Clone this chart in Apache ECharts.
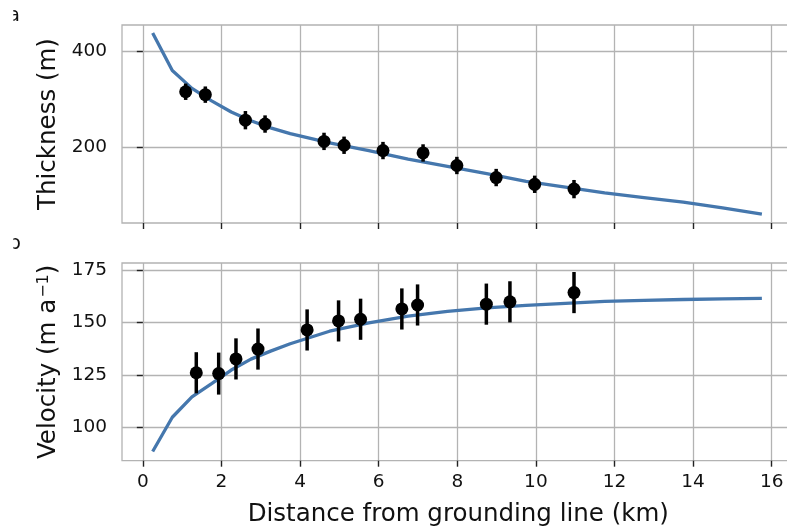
<!DOCTYPE html>
<html><head><meta charset="utf-8">
<script src="https://cdn.jsdelivr.net/npm/echarts@6/dist/echarts.min.js"></script>
<style>html,body{margin:0;padding:0;background:#fff}#c{width:787px;height:531px}</style>
</head><body><div id="c"></div>
<script>
// ---- data ----
const xTicks = [0, 2, 4, 6, 8, 10, 12, 14, 16];
const thickTicks = [200, 400];
const velTicks = [100, 125, 150, 175];

// model curves
const lineDist = [0.25, 0.75, 1.25, 1.75, 2.25, 2.75, 3.25, 3.75, 4.75, 5.75, 6.75, 7.75, 8.75, 9.75, 10.75, 11.75, 12.75, 13.75, 14.75, 15.75];
const thickModel = [437, 359, 322, 296, 273, 255, 240, 228, 209, 193, 175, 160, 145, 129, 117, 105, 95.5, 86, 74, 61];
const velModel = [88.5, 104.8, 114.5, 120.8, 127.3, 132.5, 136.3, 139.8, 145.8, 149.8, 153.0, 155.2, 156.9, 158.1, 159.1, 160.0, 160.5, 160.9, 161.2, 161.4];

// observations - thickness
const thickDist = [1.09, 1.59, 2.61, 3.11, 4.61, 5.12, 6.11, 7.13, 7.99, 8.99, 9.97, 10.97];
const thickObs = [315, 309, 256, 248, 212, 204, 193, 188, 162, 137, 123, 113];
const thickErr = [17, 17, 19, 18, 18, 18, 18, 18, 18, 18, 18, 19];

// observations - velocity
const velDist = [1.36, 1.93, 2.37, 2.93, 4.18, 4.98, 5.54, 6.59, 6.99, 8.74, 9.34, 10.97];
const velObs = [126.0, 125.6, 132.6, 137.3, 146.4, 150.7, 151.5, 156.4, 158.3, 158.7, 159.8, 164.2];
const velErr = [9.8, 10, 9.8, 9.8, 9.8, 9.8, 9.8, 9.8, 9.8, 9.8, 9.8, 9.8];

// ---- chart ----
const FONT = 'DejaVu Sans';
const GRIDC = '#b3b3b3';
const LINEC = '#4577ad';

const zip2 = (a, b) => a.map((v, i) => [v, b[i]]);
const errData = (d, v, e) => d.map((x, i) => [x, v[i] - e[i], v[i] + e[i]]);

function errRender(params, api) {
  const x = api.value(0), lo = api.value(1), hi = api.value(2);
  const p1 = api.coord([x, lo]), p2 = api.coord([x, hi]);
  return { type: 'line', shape: { x1: p1[0], y1: p1[1], x2: p2[0], y2: p2[1] },
           style: { stroke: '#000', lineWidth: 3.5 } };
}

function xAxis(gi, showLabel) {
  return {
    type: 'value', gridIndex: gi, min: -0.53, max: 16.58,
    axisLine: { show: false },
    axisTick: { show: true, customValues: xTicks, length: 6, lineStyle: { color: '#222', width: 1.4 } },
    axisLabel: { show: showLabel, customValues: xTicks, fontFamily: FONT, fontSize: 18.5, color: '#111', margin: 12 },
    splitLine: { show: true, lineStyle: { color: GRIDC, width: 1.3 } },
    name: showLabel ? 'Distance from grounding line (km)' : '',
    nameLocation: 'middle', nameGap: 41,
    nameTextStyle: { fontFamily: FONT, fontSize: 24.5, color: '#111' }
  };
}
function yAxis(gi, mn, mx, ticks, name) {
  return {
    type: 'value', gridIndex: gi, min: mn, max: mx,
    axisLine: { show: false },
    axisTick: { show: true, customValues: ticks, length: 6, lineStyle: { color: '#222', width: 1.4 } },
    axisLabel: { customValues: ticks, fontFamily: FONT, fontSize: 18.5, color: '#111', margin: 15 },
    splitLine: { show: true, lineStyle: { color: GRIDC, width: 1.3 } },
    name: name, nameLocation: 'middle', nameGap: 60,
    nameTextStyle: { fontFamily: FONT, fontSize: 24.5, color: '#111',
      rich: { sup: { fontFamily: FONT, fontSize: 16, color: '#111', verticalAlign: 'top', padding: [0, 0, 0, 1] } } }
  };
}

const chart = echarts.init(document.getElementById('c'), null, { renderer: 'canvas' });
chart.setOption({
  animation: false,
  backgroundColor: '#fff',
  grid: [
    { left: 122, top: 25, width: 672.5, height: 198, show: true, borderColor: GRIDC, borderWidth: 1.3, containLabel: false, outerBoundsMode: 'none' },
    { left: 122, top: 263, width: 672.5, height: 197.7, show: true, borderColor: GRIDC, borderWidth: 1.3, containLabel: false, outerBoundsMode: 'none' }
  ],
  xAxis: [xAxis(0, false), xAxis(1, true)],
  yAxis: [
    yAxis(0, 42.7, 453.5, thickTicks, 'Thickness (m)'),
    yAxis(1, 84.1, 178.3, velTicks, 'Velocity (m a{sup|−1})')
  ],
  series: [
    { type: 'line', xAxisIndex: 0, yAxisIndex: 0, data: zip2(lineDist, thickModel), showSymbol: false,
      lineStyle: { color: LINEC, width: 3.3 }, z: 2 },
    { type: 'custom', xAxisIndex: 0, yAxisIndex: 0, data: errData(thickDist, thickObs, thickErr),
      renderItem: errRender, encode: { x: 0, y: [1, 2] }, z: 3 },
    { type: 'scatter', xAxisIndex: 0, yAxisIndex: 0, data: zip2(thickDist, thickObs), symbolSize: 13,
      itemStyle: { color: '#000', opacity: 1 }, z: 4 },
    { type: 'line', xAxisIndex: 1, yAxisIndex: 1, data: zip2(lineDist, velModel), showSymbol: false,
      lineStyle: { color: LINEC, width: 3.3 }, z: 2 },
    { type: 'custom', xAxisIndex: 1, yAxisIndex: 1, data: errData(velDist, velObs, velErr),
      renderItem: errRender, encode: { x: 0, y: [1, 2] }, z: 3 },
    { type: 'scatter', xAxisIndex: 1, yAxisIndex: 1, data: zip2(velDist, velObs), symbolSize: 13,
      itemStyle: { color: '#000', opacity: 1 }, z: 4 }
  ],
  graphic: [
    { type: 'text', left: 7.7, top: 6, z: 10, style: { text: 'a', font: '20px "DejaVu Sans"', fill: '#111' } },
    { type: 'text', left: 8.3, top: 234, z: 10, style: { text: 'b', font: '20px "DejaVu Sans"', fill: '#111' } },
    { type: 'rect', left: 0, top: 0, z: 100, shape: { width: 13.3, height: 32 }, style: { fill: '#fff' } },
    { type: 'rect', left: 0, top: 226, z: 100, shape: { width: 13.3, height: 34 }, style: { fill: '#fff' } }
  ]
});
</script>
</body></html>
